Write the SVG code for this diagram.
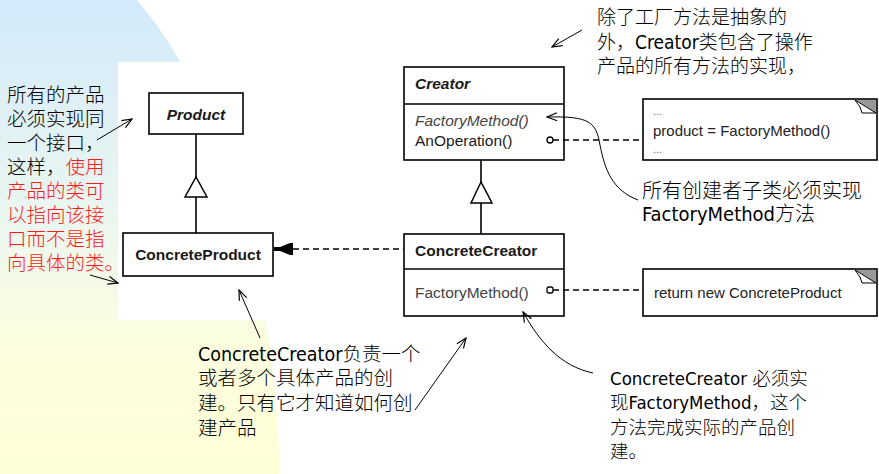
<svg xmlns="http://www.w3.org/2000/svg" width="879" height="474" viewBox="0 0 879 474">
  <defs>
    <linearGradient id="bgGrad" gradientUnits="userSpaceOnUse" x1="0" y1="0" x2="0" y2="474">
      <stop offset="0" stop-color="#d3eafb"/>
      <stop offset="0.45" stop-color="#eaf6f0"/>
      <stop offset="0.7" stop-color="#fbfde0"/>
      <stop offset="1" stop-color="#ffffd6"/>
    </linearGradient>
    <marker id="open" viewBox="0 0 12 10" refX="11" refY="5" markerWidth="12" markerHeight="10" markerUnits="userSpaceOnUse" orient="auto">
      <path d="M1,1 L11,5 L1,9" fill="none" stroke="#000" stroke-width="1.2"/>
    </marker>
  </defs>
  <style>
    .box { fill: #fff; stroke: #000; stroke-width: 1.6; }
    .uml { font-family: "Liberation Sans", Arial, sans-serif; font-size: 15.5px; fill: #1a1a1a; }
    .b { font-weight: bold; }
    .i { font-style: italic; }
    .gray { fill: #444; }
    .note { font-family: "Liberation Sans", Arial, sans-serif; font-size: 15px; fill: #222; }
    .dots { font-family: "Liberation Sans", Arial, sans-serif; font-size: 11px; fill: #666; }
    .ann { font-family: "DejaVu Sans Condensed", "DejaVu Sans", "Noto Sans CJK SC", sans-serif; fill: #000; font-weight: 300; }
    .red { fill: #ff1a1a; }
    .conn { fill: none; stroke: #000; stroke-width: 1.6; }
    .dash { fill: none; stroke: #000; stroke-width: 1.6; stroke-dasharray: 6 4; }
    .arr { fill: none; stroke: #000; stroke-width: 1; marker-end: url(#open); }
    .tri { fill: #fff; stroke: #000; stroke-width: 1.5; }
  </style>

  <!-- background -->
  <rect x="0" y="0" width="879" height="474" fill="#fff"/>
  <ellipse cx="0" cy="500" rx="280" ry="573" fill="url(#bgGrad)"/>
  <rect x="118" y="62" width="148" height="258" fill="#fff"/>

  <!-- UML nodes -->
  <g id="product">
    <rect class="box" x="149" y="93" width="94" height="41"/>
    <text class="uml b i" x="196" y="120" text-anchor="middle">Product</text>
  </g>
  <g id="concrete-product">
    <rect class="box" x="123" y="233" width="150" height="43"/>
    <text class="uml b" x="198" y="260" text-anchor="middle">ConcreteProduct</text>
  </g>
  <g id="creator">
    <rect class="box" x="404" y="67" width="160" height="93"/>
    <line class="conn" x1="404" y1="104" x2="564" y2="104"/>
    <text class="uml b i" x="415" y="89">Creator</text>
    <text class="uml i gray" x="415" y="126">FactoryMethod()</text>
    <text class="uml" x="415" y="146">AnOperation()</text>
  </g>
  <g id="concrete-creator">
    <rect class="box" x="404" y="234" width="160" height="82"/>
    <line class="conn" x1="404" y1="269" x2="564" y2="269"/>
    <text class="uml b" x="415" y="256">ConcreteCreator</text>
    <text class="uml gray" x="415" y="298">FactoryMethod()</text>
  </g>
  <g id="note-anoperation">
    <rect class="box" x="643" y="99" width="234" height="61"/>
    <polygon points="855,100 876,100 876,113" fill="#999"/>
    <polygon points="855,100 876,113 862,113 860,107" fill="#fff" stroke="#000" stroke-width="1"/>
    <text class="dots" x="653" y="115">...</text>
    <text class="note" x="653" y="136">product = FactoryMethod()</text>
    <text class="dots" x="653" y="153">...</text>
  </g>
  <g id="note-factorymethod">
    <rect class="box" x="643" y="269" width="234" height="47"/>
    <polygon points="855,270 876,270 876,283" fill="#999"/>
    <polygon points="855,270 876,283 862,283 860,277" fill="#fff" stroke="#000" stroke-width="1"/>
    <text class="note" x="654" y="298">return new ConcreteProduct</text>
  </g>

  <!-- connectors -->
  <g id="connectors">
    <!-- Product generalization -->
    <line class="conn" x1="196" y1="134" x2="196" y2="177"/>
    <polygon class="tri" points="196,177 185,197 207,197"/>
    <line class="conn" x1="196" y1="197" x2="196" y2="233"/>
    <!-- Creator generalization -->
    <line class="conn" x1="481" y1="160" x2="481" y2="182"/>
    <polygon class="tri" points="481,182 471,203 492,203"/>
    <line class="conn" x1="481" y1="203" x2="481" y2="234"/>
    <!-- dependency ConcreteCreator -> ConcreteProduct -->
    <line class="dash" x1="293" y1="249" x2="404" y2="249"/>
    <polygon points="274,247 280,247 290,243 293,243 293,255 290,255 280,251 274,251" fill="#000"/>
    <!-- note links -->
    <line class="dash" x1="553" y1="140" x2="643" y2="140"/>
    <circle cx="550" cy="140" r="3" fill="#fff" stroke="#000" stroke-width="1.3"/>
    <line class="dash" x1="553" y1="290" x2="643" y2="290"/>
    <rect x="547" y="287" width="6" height="6" rx="2" fill="#fff" stroke="#000" stroke-width="1.3"/>
    <!-- annotation arrows -->
    <line class="arr" x1="97" y1="140" x2="132" y2="119"/>
    <line class="arr" x1="90" y1="275" x2="118" y2="283"/>
    <line class="arr" x1="582" y1="30" x2="552" y2="47"/>
    <line class="arr" x1="260" y1="338" x2="239" y2="290"/>
    <line class="arr" x1="415" y1="410" x2="466" y2="338"/>
    <path class="arr" d="M638,200 C612,190 605,170 600,145 C596,122 590,116 547,117"/>
    <path class="arr" d="M593,373 C560,366 540,342 523,312"/>
  </g>

  <!-- annotations -->
  <g id="ann-left" class="ann" font-size="19.5">
    <text x="7" y="102">所有的产品</text>
    <text x="7" y="126">必须实现同</text>
    <text x="7" y="150">一个接口，</text>
    <text x="7" y="174">这样，<tspan class="red">使用</tspan></text>
    <text x="7" y="198" class="ann red">产品的类可</text>
    <text x="7" y="222" class="ann red">以指向该接</text>
    <text x="7" y="246" class="ann red">口而不是指</text>
    <text x="7" y="270" class="ann red">向具体的类。</text>
  </g>
  <g id="ann-top" class="ann" font-size="19">
    <text x="597" y="24">除了工厂方法是抽象的</text>
    <text x="597" y="49">外，Creator类包含了操作</text>
    <text x="597" y="73">产品的所有方法的实现，</text>
  </g>
  <g id="ann-mid-right" class="ann" font-size="20">
    <text x="642" y="198">所有创建者子类必须实现</text>
    <text x="642" y="221">FactoryMethod方法</text>
  </g>
  <g id="ann-bottom-mid" class="ann" font-size="19.5">
    <text x="198" y="361">ConcreteCreator负责一个</text>
    <text x="198" y="385">或者多个具体产品的创</text>
    <text x="198" y="410">建。只有它才知道如何创</text>
    <text x="198" y="435">建产品</text>
  </g>
  <g id="ann-bottom-right" class="ann" font-size="18.5">
    <text x="610" y="385">ConcreteCreator 必须实</text>
    <text x="610" y="409">现FactoryMethod，这个</text>
    <text x="610" y="434">方法完成实际的产品创</text>
    <text x="610" y="458">建。</text>
  </g>
</svg>
